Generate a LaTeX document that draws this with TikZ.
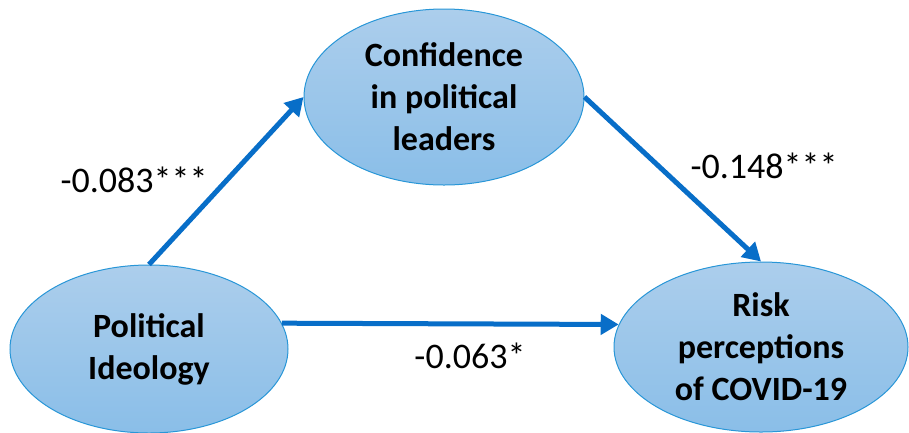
\documentclass[tikz,border=0pt]{standalone}
\usepackage{fontspec}
\setmainfont{Carlito}
\usetikzlibrary{shapes.geometric,arrows.meta}
\definecolor{arrowblue}{RGB}{8,110,200}
\definecolor{ellborder}{RGB}{40,150,215}
\definecolor{elltop}{RGB}{172,206,236}
\definecolor{ellbot}{RGB}{138,190,232}
\tikzset{
  var/.style={ellipse, draw=ellborder, line width=1pt, top color=elltop, bottom color=ellbot,
    inner sep=0pt, align=center, font=\fontsize{34}{42}\selectfont\bfseries},
  path/.style={draw=arrowblue, line width=5pt, -{Triangle[length=18pt,width=20pt]}},
  coef/.style={font=\fontsize{36}{42}\selectfont, inner sep=0pt}
}
\begin{document}
\begin{tikzpicture}[x=1pt,y=-1pt]
\useasboundingbox (0,0) rectangle (909,432);
\node[var, minimum width=278pt, minimum height=168pt] (pi) at (149,349) {Political\\Ideology};
\node[var, minimum width=280pt, minimum height=176pt] (conf) at (444,97) {Confidence\\in political\\leaders};
\node[var, minimum width=294pt, minimum height=170pt] (risk) at (761,347) {Risk\\perceptions\\of COVID-19};
\draw[path] (pi.north) -- (conf.west);
\draw[path] (conf.east) -- (risk.north);
\draw[path] (pi.11) -- (risk.171);
\node[coef] (c1) at (134,180) {-0.083***};
\node[coef] (c2) at (764,166) {-0.148***};
\node[coef] (c3) at (470,356) {-0.063*};
\end{tikzpicture}
\end{document}
